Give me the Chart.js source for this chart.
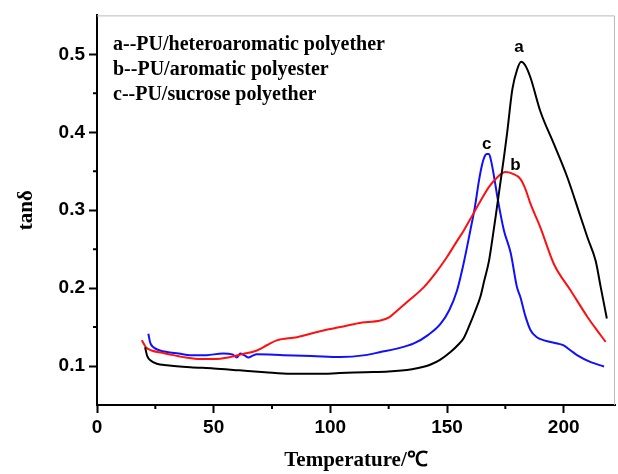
<!DOCTYPE html>
<html>
<head>
<meta charset="utf-8">
<script src="https://cdn.jsdelivr.net/npm/chart.js@4"></script>
<style>
  body { margin: 0; background: #fff; }
  #wrap { width: 618px; height: 474px; }
</style>
</head>
<body>
<div id="wrap"><canvas id="tanChart"></canvas></div>
<script>
// curve a - PU/heteroaromatic polyether
const tempA = [20.6, 21.5, 23, 25.6, 30, 40, 50, 61, 72, 83, 95, 104, 115, 125, 135, 140, 143, 147, 151.5, 155, 157.2, 160, 162, 164.4, 166, 168, 169.4, 171, 173, 174.5, 175.8, 178, 180, 181.8, 183.5, 185.8, 190, 195.8, 201.6, 207.3, 210.2, 213.7, 215.9, 218.5];
const tanA = [0.124, 0.113, 0.107, 0.103, 0.101, 0.0985, 0.097, 0.0945, 0.092, 0.090, 0.090, 0.091, 0.092, 0.093, 0.096, 0.099, 0.102, 0.108, 0.118, 0.128, 0.136, 0.155, 0.170, 0.190, 0.210, 0.235, 0.262, 0.295, 0.338, 0.370, 0.400, 0.455, 0.480, 0.4905, 0.486, 0.470, 0.427, 0.385, 0.342, 0.291, 0.265, 0.235, 0.201, 0.161];

// curve b - PU/aromatic polyester
const tempB = [19.2, 21, 23.4, 28, 32.7, 38, 44.2, 50, 57, 62, 68.5, 73, 77, 85.7, 97, 104.3, 112, 121.5, 125, 128.6, 134, 140, 145, 150, 154, 157.2, 161, 164.4, 168, 171.5, 175, 178, 181.5, 183.5, 185.8, 190, 195.8, 203, 210.2, 214, 218];
const tanB = [0.133, 0.124, 0.120, 0.117, 0.114, 0.111, 0.109, 0.109, 0.1115, 0.115, 0.120, 0.127, 0.133, 0.137, 0.1457, 0.150, 0.155, 0.1585, 0.162, 0.171, 0.185, 0.201, 0.219, 0.240, 0.259, 0.274, 0.294, 0.312, 0.330, 0.342, 0.349, 0.347, 0.340, 0.328, 0.308, 0.278, 0.231, 0.197, 0.163, 0.147, 0.131];

// curve c - PU/sucrose polyether
const tempC = [22, 22.8, 24.2, 27, 30, 35, 40, 47, 54, 58, 60, 61.4, 63, 65, 66.5, 68.5, 80, 92, 104.3, 115, 121.5, 128, 135.8, 142, 147.2, 151, 154.3, 157, 160, 162, 163.7, 165, 166, 167, 168, 169, 170, 172, 174.4, 177.3, 180, 181.5, 183.5, 185.8, 188.5, 191.6, 197.3, 200, 203, 205.9, 211.6, 217.3];
const tanC = [0.1415, 0.130, 0.124, 0.120, 0.118, 0.116, 0.1137, 0.114, 0.116, 0.115, 0.111, 0.116, 0.114, 0.111, 0.113, 0.115, 0.114, 0.113, 0.1115, 0.114, 0.118, 0.122, 0.129, 0.140, 0.154, 0.172, 0.197, 0.230, 0.274, 0.305, 0.338, 0.358, 0.368, 0.372, 0.372, 0.362, 0.346, 0.310, 0.274, 0.245, 0.201, 0.188, 0.165, 0.146, 0.137, 0.133, 0.129, 0.1265, 0.120, 0.1137, 0.105, 0.0995];

const xTicks = [0, 50, 100, 150, 200];
const xMinor = [25, 75, 125, 175];
const yTicks = [0.1, 0.2, 0.3, 0.4, 0.5];
const yMinor = [0.15, 0.25, 0.35, 0.45];

const legendLines = ['a--PU/heteroaromatic polyether', 'b--PU/aromatic polyester', 'c--PU/sucrose polyether'];
// curve tags: [text, temperature, tan delta]
const curveTags = [['a', 180.8, 0.5085], ['b', 179.3, 0.357], ['c', 167, 0.385]];

const toPoints = (xs, ys) => xs.map((x, i) => ({ x: x, y: ys[i] }));

// frame, minor ticks and text inside the plot
const decorations = {
    id: 'decorations',
    afterDraw(chart) {
        const { ctx, chartArea, scales } = chart;
        ctx.save();
        ctx.strokeStyle = '#bbb';
        ctx.lineWidth = 1;
        ctx.beginPath();
        ctx.moveTo(chartArea.left, chartArea.top + 0.5);
        ctx.lineTo(chartArea.right - 0.5, chartArea.top + 0.5);
        ctx.lineTo(chartArea.right - 0.5, chartArea.bottom);
        ctx.stroke();

        ctx.strokeStyle = '#000';
        ctx.lineWidth = 2;
        ctx.beginPath();
        xMinor.forEach(v => {
            const px = scales.x.getPixelForValue(v);
            ctx.moveTo(px, chartArea.bottom);
            ctx.lineTo(px, chartArea.bottom + 4);
        });
        yMinor.forEach(v => {
            const py = scales.y.getPixelForValue(v);
            ctx.moveTo(chartArea.left, py);
            ctx.lineTo(chartArea.left - 4, py);
        });
        ctx.stroke();

        ctx.fillStyle = '#000';
        ctx.font = 'bold 20px "Liberation Serif", serif';
        ctx.textBaseline = 'middle';
        ctx.textAlign = 'left';
        legendLines.forEach((t, i) => {
            ctx.fillText(t, chartArea.left + 16, chartArea.top + 29 + i * 25);
        });

        ctx.font = 'bold 17px "Liberation Sans", Arial, sans-serif';
        ctx.textAlign = 'center';
        curveTags.forEach(([t, x, y]) => {
            ctx.fillText(t, scales.x.getPixelForValue(x), scales.y.getPixelForValue(y));
        });
        ctx.restore();
    }
};

const tickFont = { family: '"Liberation Sans", Arial, sans-serif', size: 19, weight: 'bold' };
const titleFont = { family: '"Liberation Serif", "Times New Roman", serif', size: 21, weight: 'bold' };

new Chart(document.getElementById('tanChart').getContext('2d'), {
    type: 'line',
    data: {
        datasets: [
            { label: 'a', data: toPoints(tempA, tanA), borderColor: '#000000' },
            { label: 'b', data: toPoints(tempB, tanB), borderColor: '#ff1010' },
            { label: 'c', data: toPoints(tempC, tanC), borderColor: '#1010ff' }
        ]
    },
    options: {
        responsive: true,
        maintainAspectRatio: false,
        animation: false,
        layout: { padding: { top: 13, right: 3, left: 0, bottom: 0 } },
        elements: {
            line: { borderWidth: 2, cubicInterpolationMode: 'monotone', fill: false },
            point: { radius: 0 }
        },
        scales: {
            x: {
                type: 'linear',
                min: 0,
                max: 222,
                afterFit: s => { s.height = 69; },
                afterBuildTicks: s => { s.ticks = xTicks.map(v => ({ value: v })); },
                grid: { drawOnChartArea: false, tickLength: 8, tickWidth: 2, tickColor: '#000' },
                border: { color: '#000', width: 2 },
                ticks: { color: '#000', font: tickFont, padding: 3, maxRotation: 0 },
                title: { display: true, text: 'Temperature/℃', color: '#000', font: titleFont, padding: { top: 0, bottom: 1 } }
            },
            y: {
                min: 0.05,
                max: 0.55,
                afterFit: s => { s.width = 97; },
                afterBuildTicks: s => { s.ticks = yTicks.map(v => ({ value: v })); },
                grid: { drawOnChartArea: false, tickLength: 8, tickWidth: 2, tickColor: '#000' },
                border: { color: '#000', width: 2 },
                ticks: { color: '#000', font: tickFont, padding: 4, callback: v => v.toFixed(1) },
                title: { display: true, text: 'tanδ', color: '#000', font: titleFont, padding: { top: 14, bottom: 0 } }
            }
        },
        plugins: {
            legend: { display: false },
            tooltip: { enabled: false }
        }
    },
    plugins: [decorations]
});
</script>
</body>
</html>
